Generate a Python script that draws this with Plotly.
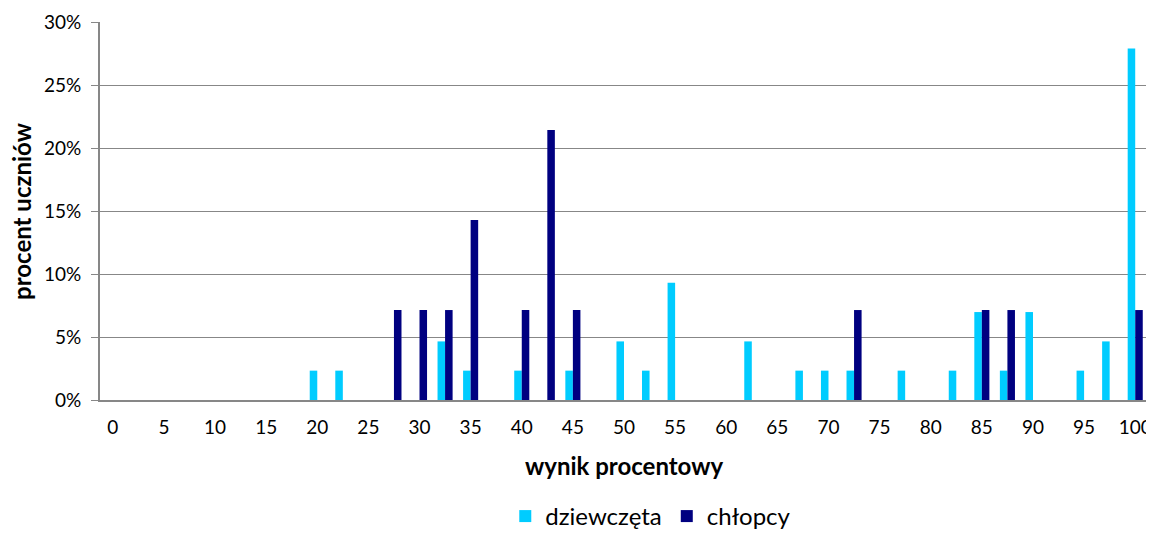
import plotly.graph_objects as go

# categories: percentage score in 2.5-point steps
scores = [i * 2.5 for i in range(41)]
tick_labels = [str(v) for v in range(0, 101, 5)]

# share of students (fractions)
girls = [0, 0, 0, 0, 0, 0, 0, 0, 0.0233, 0.0233,
         0, 0, 0, 0.0465, 0.0233, 0, 0.0233, 0, 0.0233, 0,
         0.0465, 0.0233, 0.093, 0, 0, 0.0465, 0, 0.0233, 0.0233, 0.0233,
         0, 0.0233, 0, 0.0233, 0.0698, 0.0233, 0.0698, 0, 0.0233, 0.0465,
         0.279]
boys = [0, 0, 0, 0, 0, 0, 0, 0, 0, 0,
        0, 0.0714, 0.0714, 0.0714, 0.1429, 0, 0.0714, 0.2143, 0.0714, 0,
        0, 0, 0, 0, 0, 0, 0, 0, 0, 0.0714,
        0, 0, 0, 0, 0.0714, 0.0714, 0, 0, 0, 0,
        0.0714]

FONT = "Lato"
GRID = "#878787"

fig = go.Figure()
fig.add_trace(go.Bar(x=scores, y=girls, name="dziewczęta", marker_color="#00CCFF",
                     marker_line_width=0))
fig.add_trace(go.Bar(x=scores, y=boys, name="chłopcy", marker_color="#000080",
                     marker_line_width=0))

fig.update_layout(
    width=1154, height=533,
    margin=dict(l=92, r=14, t=14, b=141),
    paper_bgcolor="white", plot_bgcolor="white",
    barmode="group", bargap=0.41, bargroupgap=0,
    font=dict(family=FONT, size=19, color="#000000"),
    showlegend=True,
    legend=dict(orientation="h", xref="container", yref="container",
                x=0.557, xanchor="center", y=0.046, yanchor="middle",
                font=dict(size=24), itemwidth=30, tracegroupgap=0),
    xaxis=dict(range=[-1.25, 101.25], tickmode="array",
               tickvals=list(range(0, 101, 5)), ticktext=tick_labels,
               showgrid=False, showline=True, linecolor=GRID, linewidth=2,
               ticks="", ticklen=0, ticklabelstandoff=9,
               zeroline=False, automargin=False),
    yaxis=dict(range=[0, 0.30], dtick=0.05, tickformat=".0%",
               showgrid=True, gridcolor=GRID, gridwidth=1,
               showline=True, linecolor=GRID, linewidth=2,
               ticks="outside", ticklen=7, tickcolor=GRID, tickwidth=1,
               ticklabelstandoff=6,
               zeroline=False, automargin=False),
    annotations=[
        dict(text="<b>wynik procentowy</b>", xref="paper", yref="paper",
             x=0.5, y=-0.1746, xanchor="center", yanchor="middle",
             showarrow=False, font=dict(size=24)),
        dict(text="<b>procent uczniów</b>", xref="paper", yref="paper",
             x=-0.0754, y=0.5, xanchor="center", yanchor="middle", textangle=-90,
             showarrow=False, font=dict(size=24)),
    ],
)

fig.write_html("out.html")
